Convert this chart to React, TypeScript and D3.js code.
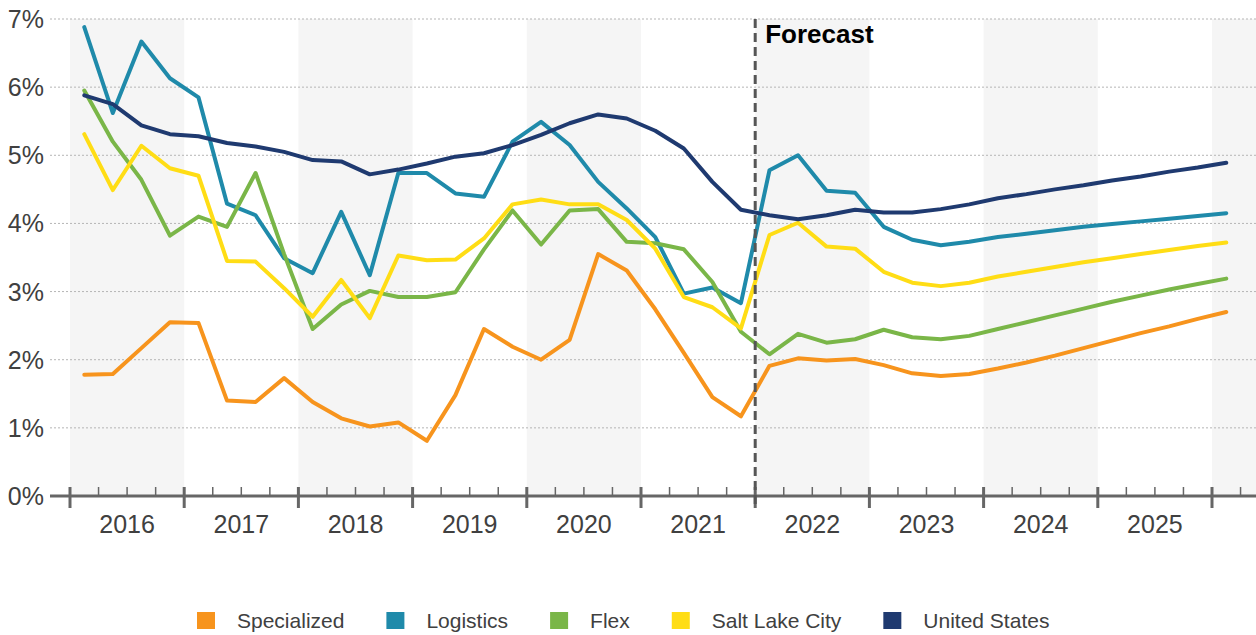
import React from "react";
import * as d3 from "d3";

// quarterly vacancy rates, 2016 Q1 .. 2026 Q1 (forecast from 2022)
const years = [2016, 2017, 2018, 2019, 2020, 2021, 2022, 2023, 2024, 2025];
const yTicks = [0, 1, 2, 3, 4, 5, 6, 7];

const specialized = [1.78, 1.79, 2.17, 2.55, 2.54, 1.40, 1.38, 1.73, 1.38, 1.14, 1.02, 1.08, 0.81, 1.48, 2.45, 2.19, 2.00, 2.29, 3.55, 3.31, 2.74, 2.10, 1.45, 1.17, 1.91, 2.02, 1.99, 2.01, 1.92, 1.80, 1.76, 1.79, 1.87, 1.96, 2.06, 2.17, 2.28, 2.39, 2.49, 2.60, 2.70];
const logistics = [6.88, 5.62, 6.67, 6.13, 5.85, 4.29, 4.12, 3.49, 3.27, 4.17, 3.24, 4.74, 4.74, 4.44, 4.39, 5.20, 5.49, 5.15, 4.61, 4.22, 3.80, 2.97, 3.06, 2.83, 4.78, 5.00, 4.48, 4.45, 3.95, 3.76, 3.68, 3.73, 3.80, 3.85, 3.90, 3.95, 3.99, 4.03, 4.07, 4.11, 4.15];
const flex = [5.95, 5.20, 4.64, 3.82, 4.10, 3.95, 4.74, 3.55, 2.45, 2.81, 3.01, 2.92, 2.92, 2.99, 3.62, 4.19, 3.69, 4.19, 4.21, 3.73, 3.71, 3.62, 3.14, 2.41, 2.08, 2.38, 2.25, 2.30, 2.44, 2.33, 2.30, 2.35, 2.45, 2.55, 2.65, 2.75, 2.85, 2.94, 3.03, 3.11, 3.19];
const saltLake = [5.31, 4.49, 5.14, 4.81, 4.70, 3.45, 3.44, 3.05, 2.63, 3.17, 2.61, 3.53, 3.46, 3.47, 3.78, 4.28, 4.35, 4.28, 4.28, 4.05, 3.63, 2.92, 2.77, 2.46, 3.83, 4.01, 3.66, 3.63, 3.29, 3.13, 3.08, 3.13, 3.22, 3.29, 3.36, 3.43, 3.49, 3.55, 3.61, 3.67, 3.72];
const unitedStates = [5.88, 5.75, 5.44, 5.31, 5.28, 5.18, 5.13, 5.05, 4.93, 4.91, 4.72, 4.79, 4.88, 4.98, 5.03, 5.15, 5.30, 5.47, 5.60, 5.54, 5.36, 5.10, 4.61, 4.20, 4.12, 4.06, 4.12, 4.20, 4.16, 4.16, 4.21, 4.28, 4.37, 4.43, 4.50, 4.56, 4.63, 4.69, 4.76, 4.82, 4.89];

const seriesNames = ["Specialized", "Logistics", "Flex", "Salt Lake City", "United States"];
const seriesColors = ["#F7941D", "#1F8AAA", "#7AB648", "#FFDD15", "#1F3A70"];
const seriesValues = [specialized, logistics, flex, saltLake, unitedStates];

const forecastStart = 2022;

const W = 1256, H = 635;
const FONT = "'Liberation Sans', Arial, sans-serif";

function textWidth(s: string, font: string) {
  const c = document.createElement("canvas").getContext("2d");
  if (!c) return s.length * 10;
  c.font = font;
  return c.measureText(s).width;
}

export default function App() {
  const x = d3.scaleLinear().domain([2016, 2026]).range([70, 1212]);
  const y = d3.scaleLinear().domain([0, 7]).range([496, 19]);
  const axisEnd = W;
  const axisStart = 50;

  const qx = (i: number) => x(years[0] + (i + 0.5) / 4);
  const line = d3.line<number>().x((_, i) => qx(i)).y(d => y(d));

  // minor ticks every quarter
  const quarterTicks = d3.range(years[0] * 4, Math.floor(x.invert(axisEnd) * 4) + 1).map(q => q / 4);
  const bandYears = [...years, 2026];

  // legend layout
  const legendFont = `21px ${FONT}`;
  let lx = 197;
  const legendItems = seriesNames.map((name, i) => {
    const item = { name, color: seriesColors[i], x: lx };
    lx += 18 + 22 + textWidth(name, legendFont) + 42;
    return item;
  });

  return (
    <svg width={W} height={H} style={{ position: "absolute", left: 0, top: 0, background: "#fff" }} fontFamily={FONT}>
      {/* alternating year bands */}
      {bandYears.filter((_, i) => i % 2 === 0).map(yr => (
        <rect key={yr} x={x(yr)} y={y(7)} width={Math.min(x(yr + 1), axisEnd) - x(yr)} height={y(0) - y(7)} fill="#f5f5f5" />
      ))}

      {/* grid + y labels */}
      {yTicks.map(t => (
        <g key={t}>
          {t > 0 && <line x1={axisStart} x2={axisEnd} y1={y(t)} y2={y(t)} stroke="#b5b5b5" strokeWidth={1} strokeDasharray="2 2" />}
          <text x={44} y={y(t) + 9} textAnchor="end" fontSize={25} fill="#404040">{t}%</text>
        </g>
      ))}

      {/* series */}
      {seriesValues.map((vals, i) => (
        <path key={seriesNames[i]} d={line(vals) || ""} fill="none" stroke={seriesColors[i]} strokeWidth={4} strokeLinejoin="round" strokeLinecap="round" />
      ))}

      {/* x axis */}
      <line x1={axisStart} x2={axisEnd} y1={y(0)} y2={y(0)} stroke="#666" strokeWidth={3} />
      {quarterTicks.map(q => {
        const major = Number.isInteger(q);
        return (
          <line key={q} x1={x(q)} x2={x(q)} y1={y(0) - 9} y2={major ? y(0) + 12 : y(0)} stroke="#666" strokeWidth={major ? 3 : 1.5} />
        );
      })}
      {years.map(yr => (
        <text key={yr} x={x(yr + 0.5)} y={533} textAnchor="middle" fontSize={25} fill="#404040">{yr}</text>
      ))}

      {/* forecast divider */}
      <line x1={x(forecastStart)} x2={x(forecastStart)} y1={y(7)} y2={y(0) + 12} stroke="#555" strokeWidth={3} strokeDasharray="9 5" />
      <text x={x(forecastStart) + 10} y={43} fontSize={26} fontWeight="bold" fill="#000">Forecast</text>

      {/* legend */}
      {legendItems.map(it => (
        <g key={it.name}>
          <rect x={it.x} y={612} width={18} height={17} fill={it.color} />
          <text x={it.x + 40} y={628} fontSize={21} fill="#404040">{it.name}</text>
        </g>
      ))}
    </svg>
  );
}
